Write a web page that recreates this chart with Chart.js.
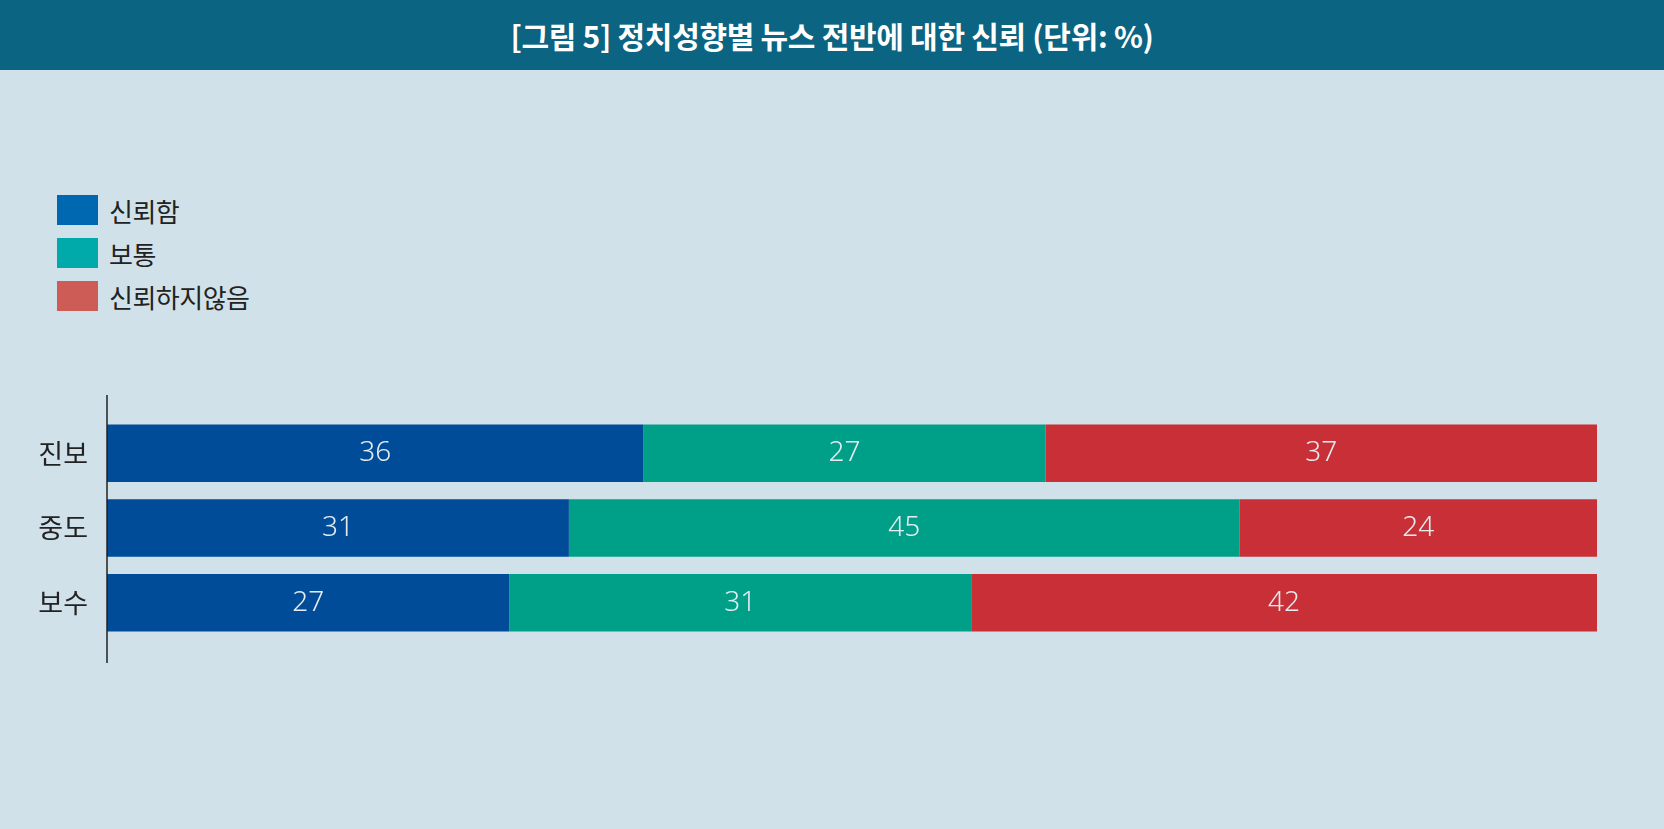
<html><head>
<meta charset="UTF-8">
<title>정치성향별 뉴스 전반에 대한 신뢰</title>
<script src="https://cdn.jsdelivr.net/npm/chart.js"></script>
<style>
* {
  margin: 0;
  padding: 0;
  box-sizing: border-box;
}

body {
  width: 1664px;
  height: 829px;
  background: #d0e1e9;
  font-family: 'Noto Sans CJK KR', 'Noto Sans', sans-serif;
  overflow: hidden;
  position: relative;
}

.header {
  height: 70px;
  background: #0a6482;
  color: #fff;
  font-size: 30px;
  font-weight: bold;
  text-align: center;
  line-height: 70px;
  letter-spacing: -0.3px;
}

.legend {
  position: absolute;
  left: 57px;
  top: 195px;
}

.legend-item {
  display: flex;
  align-items: center;
  height: 30px;
  margin-bottom: 13px;
}

.legend-box {
  width: 41px;
  height: 30px;
  margin-right: 11px;
}

.legend-label {
  font-size: 26px;
  color: #222;
  letter-spacing: -0.5px;
}

.chart-wrap {
  position: absolute;
  left: 0;
  top: 0;
  width: 1664px;
  height: 829px;
}
</style>
</head>
<body>
<div class="header">[그림 5] 정치성향별 뉴스 전반에 대한 신뢰 (단위: %)</div>
<div class="legend" id="legend"></div>
<div class="chart-wrap"><canvas id="trustChart"></canvas></div>

<script>
const categories = ['진보', '중도', '보수'];
const seriesNames = ['신뢰함', '보통', '신뢰하지않음'];
const trusted = [36, 31, 27];
const neutral = [27, 45, 31];
const distrusted = [37, 24, 42];

const barColors = ['#004c99', '#00a088', '#c92f37'];
const legendColors = ['#0068b0', '#00aaaa', '#cd5c57'];

// vertical axis line, a bit longer than the bar area
const axisLine = {
  id: 'axisLine',
  afterDatasetsDraw(chart) {
    const { ctx, chartArea } = chart;
    ctx.save();
    ctx.strokeStyle = '#222';
    ctx.lineWidth = 1.5;
    ctx.beginPath();
    ctx.moveTo(chartArea.left, chartArea.top - 21);
    ctx.lineTo(chartArea.left, chartArea.bottom + 23);
    ctx.stroke();
    ctx.restore();
  }
};

// value labels in the middle of each segment
const valueLabels = {
  id: 'valueLabels',
  afterDatasetsDraw(chart) {
    const ctx = chart.ctx;
    ctx.save();
    ctx.font = '300 28px "Noto Sans", sans-serif';
    ctx.fillStyle = '#e4ecf1';
    ctx.textAlign = 'center';
    ctx.textBaseline = 'middle';
    chart.data.datasets.forEach((ds, i) => {
      chart.getDatasetMeta(i).data.forEach((bar, j) => {
        const x = (bar.x + bar.base) / 2;
        ctx.fillText(ds.data[j], x, bar.y);
      });
    });
    ctx.restore();
  }
};

const chart = new Chart(document.getElementById('trustChart'), {
  type: 'bar',
  data: {
    labels: categories,
    datasets: [
      { label: seriesNames[0], data: trusted, backgroundColor: barColors[0] },
      { label: seriesNames[1], data: neutral, backgroundColor: barColors[1] },
      { label: seriesNames[2], data: distrusted, backgroundColor: barColors[2] }
    ]
  },
  options: {
    indexAxis: 'y',
    responsive: true,
    maintainAspectRatio: false,
    animation: false,
    categoryPercentage: 1,
    barPercentage: 0.77,
    layout: {
      padding: { top: 416, bottom: 189, right: 67, left: 0 }
    },
    plugins: {
      legend: { display: false },
      tooltip: { enabled: false }
    },
    scales: {
      x: {
        stacked: true,
        min: 0,
        max: 100,
        display: false
      },
      y: {
        stacked: true,
        grid: { display: false, drawTicks: false },
        border: { display: false },
        afterFit(scale) { scale.width = 107; },
        ticks: {
          padding: 19,
          color: '#222',
          font: { family: "'Noto Sans CJK KR', sans-serif", size: 27 }
        }
      }
    }
  },
  plugins: [axisLine, valueLabels]
});

const legend = document.getElementById('legend');
seriesNames.forEach((name, i) => {
  const item = document.createElement('div');
  item.className = 'legend-item';
  item.innerHTML = '<span class="legend-box" style="background:' + legendColors[i] + '"></span>' +
    '<span class="legend-label">' + name + '</span>';
  legend.appendChild(item);
});
</script>
</body></html>
